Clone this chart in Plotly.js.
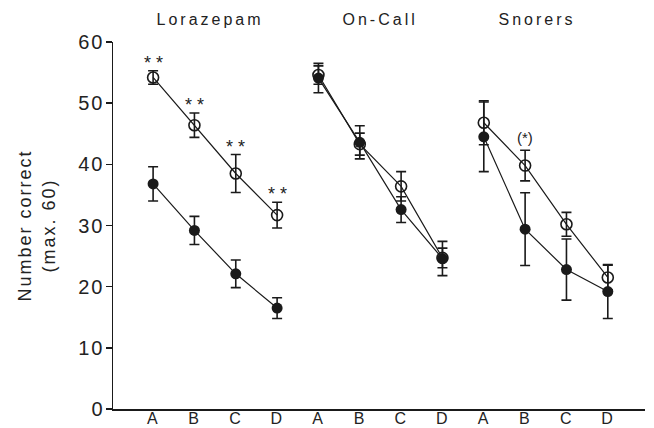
<!DOCTYPE html>
<html>
<head>
<meta charset="utf-8">
<script src="https://cdn.plot.ly/plotly-3.0.1.min.js"></script>
<style>
html, body { margin: 0; padding: 0; background: #fff; }
#chart { width: 654px; height: 428px; }
.xtick text { letter-spacing: 1.5px; }
.ytick text { letter-spacing: 2px; }
.g-ytitle text { letter-spacing: 2px; }
.grouptitle .annotation-text { letter-spacing: 3px; }
</style>
</head>
<body>
<div id="chart"></div>
<script>
// ---- data ----
const conditions = ['A', 'B', 'C', 'D'];
const groups = ['Lorazepam', 'On-Call', 'Snorers'];

// open circles
const lorOpen = [54.2, 46.4, 38.5, 31.7];
const lorOpenErr = [1.1, 2.0, 3.1, 2.1];
const onOpen = [54.6, 43.3, 36.4, 24.7];
const onOpenErr = [1.5, 1.8, 2.4, 1.6];
const snOpen = [46.8, 39.8, 30.2, 21.5];
const snOpenErr = [3.6, 2.5, 1.95, 2.0];

// filled circles
const lorFilled = [36.8, 29.2, 22.1, 16.5];
const lorFilledErr = [2.8, 2.3, 2.25, 1.7];
const onFilled = [54.1, 43.6, 32.6, 24.6];
const onFilledErr = [2.4, 2.7, 2.1, 2.8];
const snFilled = [44.5, 29.4, 22.8, 19.2];
const snFilledErr = [5.7, 5.95, 5.0, 4.4];

// significance marks (above open-circle error bars)
const lorSig = ['**', '**', '**', '**'];
const onSig = ['', '', '', ''];
const snSig = ['', '(*)', '', ''];

const openSets = [[lorOpen, lorOpenErr, lorSig], [onOpen, onOpenErr, onSig], [snOpen, snOpenErr, snSig]];
const filledSets = [[lorFilled, lorFilledErr], [onFilled, onFilledErr], [snFilled, snFilledErr]];

function xs(g) { return conditions.map((c, i) => g * conditions.length + i + 1); }

const ink = '#1a1a1a';
const traces = [];
openSets.forEach((s, g) => {
  traces.push({
    x: xs(g), y: s[0], type: 'scatter', mode: 'lines+markers',
    name: groups[g] + ' open', showlegend: false,
    line: { color: ink, width: 1.2 },
    marker: { symbol: 'circle-open', size: 11, color: ink, line: { width: 1.6, color: ink } },
    error_y: { type: 'data', array: s[1], visible: true, color: ink, thickness: 1.6, width: 5 }
  });
});
filledSets.forEach((s, g) => {
  traces.push({
    x: xs(g), y: s[0], type: 'scatter', mode: 'lines+markers',
    name: groups[g] + ' filled', showlegend: false,
    line: { color: ink, width: 1.2 },
    marker: { symbol: 'circle', size: 11, color: ink },
    error_y: { type: 'data', array: s[1], visible: true, color: ink, thickness: 1.6, width: 5 }
  });
});

const annotations = [];
openSets.forEach((s, g) => {
  const x = xs(g);
  s[2].forEach((t, i) => {
    if (!t) return;
    annotations.push({
      x: x[i], y: s[0][i] + s[1][i], xref: 'x', yref: 'y',
      text: t === '**' ? '* *' : t, showarrow: false, yanchor: 'middle', yshift: t === '**' ? 8 : 13,
      font: { family: 'Liberation Sans, Arial, sans-serif', size: t === '**' ? 18 : 15, color: '#222' }
    });
  });
});
const titleShift = [-5, 0, -9];
groups.forEach((name, g) => {
  const x = xs(g);
  annotations.push({
    x: (x[0] + x[3]) / 2, y: 1.06, xref: 'x', yref: 'paper', xshift: titleShift[g],
    text: name, showarrow: false, yanchor: 'middle', name: 'grouptitle',
    font: { family: 'Liberation Sans, Arial, sans-serif', size: 16, color: '#222' }
  });
});

const tickvals = [], ticktext = [];
groups.forEach((name, g) => { xs(g).forEach((v, i) => { tickvals.push(v); ticktext.push(conditions[i]); }); });

const layout = {
  width: 654, height: 428,
  margin: { l: 113, r: 9, t: 42, b: 19 },
  paper_bgcolor: '#fff', plot_bgcolor: '#fff',
  font: { family: 'Liberation Sans, Arial, sans-serif', color: '#222' },
  showlegend: false,
  xaxis: {
    range: [0.03, 12.9], tickvals: tickvals, ticktext: ticktext,
    showline: true, linecolor: ink, linewidth: 1.5, ticks: '', showgrid: false, zeroline: false,
    tickfont: { size: 16, color: '#222' }, automargin: false, ticklabelstandoff: -6
  },
  yaxis: {
    range: [0, 60], tickvals: [0, 10, 20, 30, 40, 50, 60],
    showline: true, linecolor: ink, linewidth: 1.5, ticks: 'outside', ticklen: 6, tickwidth: 1.5, tickcolor: ink,
    showgrid: false, zeroline: false, tickfont: { size: 20, color: '#222' }, automargin: false,
    ticklabelstandoff: -3,
    title: { text: 'Number correct<br>(max. 60)', font: { size: 18, color: '#222' }, standoff: 18 }
  },
  annotations: annotations
};

Plotly.newPlot('chart', traces, layout, { displayModeBar: false, staticPlot: true }).then(() => {
  // tag group-title annotations for letter spacing
  const anns = document.querySelectorAll('.annotation');
  anns.forEach((a) => {
    const t = a.textContent;
    if (groups.indexOf(t) >= 0) a.classList.add('grouptitle');
  });
});
</script>
</body>
</html>
